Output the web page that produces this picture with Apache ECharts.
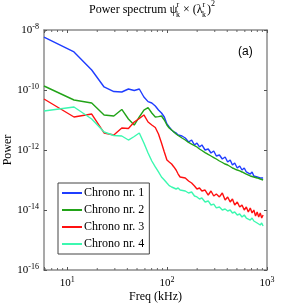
<!DOCTYPE html>
<html>
<head>
<meta charset="utf-8">
<script src="https://cdn.jsdelivr.net/npm/echarts@6.0.0/dist/echarts.min.js"></script>
<style>html,body{margin:0;padding:0;background:#fff;}#c{width:295px;height:306px;}</style>
</head>
<body>
<div id="c"></div>
<script>
const freq = [5.86, 11.7, 17.6, 23.4, 29.3, 35.2, 41.0, 46.9, 52.7, 58.6, 64.5, 70.3, 76.2, 82.0, 87.9, 93.8, 99.6,
  105, 111, 117, 123, 129, 135, 141, 152, 164, 176, 188, 199, 211, 223, 240, 258, 275, 293, 311, 334, 357, 381,
  404, 428, 451, 475, 504, 533, 562, 592, 621, 650, 680, 709, 738, 768, 797, 826, 856, 885, 914];

const chrono1 = [5.84e-9, 1.85e-9, 4.64e-10, 1.26e-10, 8.9e-11, 8.58e-11, 1.08e-10, 9.6e-11, 1.08e-10, 5.84e-11,
  4.1e-11, 3.69e-11, 2.93e-11, 2.15e-11, 1.71e-11, 1.26e-11, 7.36e-12, 5.84e-12, 4.64e-12, 3.98e-12,
  3.69e-12, 3.16e-12, 2.93e-12, 2.93e-12, 2.51e-12, 1.85e-12, 2.15e-12, 1.47e-12, 1.71e-12, 1.26e-12,
  1.47e-12, 1.0e-12, 1.08e-12, 7.94e-13, 9.26e-13, 6.31e-13, 6.81e-13, 5.01e-13, 5.84e-13, 3.98e-13,
  4.64e-13, 3.16e-13, 3.69e-13, 2.51e-13, 2.93e-13, 2.15e-13, 2.51e-13, 1.85e-13, 2.0e-13, 1.58e-13,
  1.85e-13, 1.36e-13, 1.58e-13, 1.26e-13, 1.36e-13, 1.17e-13, 1.36e-13, 1.17e-13];

const chrono2 = [1.36e-10, 4.64e-11, 3.69e-11, 1.47e-11, 1.36e-11, 2.25e-11, 1.08e-11, 6.81e-12, 1.26e-11, 2.15e-11,
  2.6e-11, 1.71e-11, 1.26e-11, 1.3e-11, 1.36e-11, 1.0e-11, 6.81e-12, 5.41e-12, 4.64e-12, 3.98e-12,
  3.41e-12, 3.05e-12, 2.72e-12, 2.51e-12, 2.15e-12, 1.78e-12, 1.58e-12, 1.41e-12, 1.26e-12, 1.08e-12,
  9.6e-13, 8.2e-13, 7.1e-13, 6.31e-13, 5.6e-13, 5.01e-13, 4.3e-13, 3.83e-13, 3.41e-13, 3.16e-13,
  2.82e-13, 2.51e-13, 2.33e-13, 2.15e-13, 2.0e-13, 1.85e-13, 1.71e-13, 1.58e-13, 1.47e-13, 1.36e-13,
  1.31e-13, 1.26e-13, 1.21e-13, 1.17e-13, 1.12e-13, 1.08e-13, 1.04e-13, 1.0e-13];

const chrono3 = [5.01e-11, 1.26e-11, 1.58e-11, 3.69e-12, 3.16e-12, 5.41e-12, 5.2e-12, 8.58e-12, 1.12e-11, 1.47e-11,
  8.58e-12, 6.81e-12, 5.6e-12, 3.41e-12, 1.71e-12, 8.58e-13, 4.64e-13, 3.98e-13, 3.41e-13, 2.72e-13,
  2.15e-13, 1.58e-13, 1.26e-13, 1.36e-13, 1.17e-13, 9.26e-14, 7.94e-14, 6.31e-14, 5.01e-14, 5.41e-14,
  4.3e-14, 4.64e-14, 3.16e-14, 4.3e-14, 2.93e-14, 3.41e-14, 2.72e-14, 3.69e-14, 2.15e-14, 2.72e-14,
  1.85e-14, 2.33e-14, 1.47e-14, 1.85e-14, 1.26e-14, 1.47e-14, 1.0e-14, 1.26e-14, 8.58e-15, 1.17e-14,
  7.94e-15, 1.0e-14, 6.31e-15, 8.58e-15, 5.84e-15, 7.94e-15, 5.41e-15, 6.81e-15];

const chrono4 = [2.0e-11, 2.72e-11, 1.08e-11, 3.98e-12, 3.05e-12, 2.93e-12, 2.15e-12, 2.82e-12, 3.69e-12, 1.71e-12,
  7.94e-13, 4.3e-13, 2.72e-13, 1.85e-13, 1.26e-13, 1.0e-13, 7.94e-14, 6.5e-14, 5.84e-14, 5.41e-14,
  5.01e-14, 5.41e-14, 4.64e-14, 5.01e-14, 4.3e-14, 3.69e-14, 3.98e-14, 2.93e-14, 2.72e-14, 2.33e-14,
  2.51e-14, 1.85e-14, 2.0e-14, 1.47e-14, 1.58e-14, 1.17e-14, 1.26e-14, 1.0e-14, 1.08e-14, 9.26e-15,
  1.0e-14, 7.94e-15, 8.58e-15, 6.81e-15, 7.36e-15, 5.84e-15, 6.81e-15, 5.41e-15, 5.84e-15, 4.64e-15,
  5.41e-15, 4.3e-15, 4.64e-15, 3.69e-15, 3.98e-15, 3.16e-15, 3.69e-15, 2.93e-15];

const minorTickValues = [6, 7, 8, 9, 20, 30, 40, 50, 60, 70, 80, 90, 200, 300, 400, 500, 600, 700, 800, 900];

const seriesNames = ['Chrono nr. 1', 'Chrono nr. 2', 'Chrono nr. 3', 'Chrono nr. 4'];
const seriesColors = ['#1f3dff', '#22a318', '#ff1010', '#3cf8b0'];
const seriesValues = [chrono1, chrono2, chrono3, chrono4];

const serif = 'Liberation Serif';
const Y_MIN = 1e-16, Y_MAX = 1e-8;

function powLabel(v) {
  const l = Math.log10(v);
  const e = Math.round(l);
  if (Math.abs(l - e) > 1e-6) return '';
  return '{b|10}{s|' + e + '}';
}
const richLabel = {
  b: { fontFamily: serif, fontSize: 11, color: '#000' },
  s: { fontFamily: serif, fontSize: 8, color: '#000', padding: [0, 0, 7, 0] }
};

const axisLineStyle = { lineStyle: { color: '#8c8c8c', width: 1.5 } };
const tickStyle = { inside: true, length: 3, lineStyle: { color: '#555', width: 1 } };

const lineSeries = seriesNames.map((name, i) => ({
  name: name, type: 'line', xAxisIndex: 0, yAxisIndex: 0,
  data: freq.map((f, j) => [f, seriesValues[i][j]]),
  showSymbol: false, symbol: 'none',
  lineStyle: { color: seriesColors[i], width: 1.4 },
  itemStyle: { color: seriesColors[i] },
  z: 2 + i
}));

const minorTicks = {
  type: 'custom', silent: true, xAxisIndex: 0, yAxisIndex: 0, z: 10,
  data: minorTickValues.map(v => [v, Y_MIN]),
  renderItem: function (params, api) {
    const v = api.value(0);
    const pb = api.coord([v, Y_MIN]);
    const pt = api.coord([v, Y_MAX]);
    const st = { stroke: '#666', lineWidth: 1 };
    return {
      type: 'group',
      children: [
        { type: 'line', shape: { x1: pb[0], y1: pb[1], x2: pb[0], y2: pb[1] - 2 }, style: st },
        { type: 'line', shape: { x1: pt[0], y1: pt[1], x2: pt[0], y2: pt[1] + 2 }, style: st }
      ]
    };
  }
};

const chart = echarts.init(document.getElementById('c'), null, { renderer: 'canvas' });
chart.setOption({
  animation: false,
  backgroundColor: '#fff',
  grid: { left: 44, top: 30, width: 223, height: 240, containLabel: false },
  xAxis: [{
    type: 'log', logBase: 10, min: 5.86, max: 1000, position: 'bottom',
    axisLine: axisLineStyle, axisTick: tickStyle, splitLine: { show: false },
    axisLabel: { formatter: powLabel, rich: richLabel, margin: 6, hideOverlap: false, showMinLabel: true, showMaxLabel: true }
  }, {
    type: 'log', logBase: 10, min: 5.86, max: 1000, position: 'top',
    axisLine: axisLineStyle, axisTick: tickStyle, splitLine: { show: false },
    axisLabel: { show: false }
  }],
  yAxis: [{
    type: 'log', logBase: 10, min: Y_MIN, max: Y_MAX, interval: 2, position: 'left',
    axisLine: axisLineStyle, axisTick: tickStyle, splitLine: { show: false },
    axisLabel: { formatter: powLabel, rich: richLabel, margin: 5, showMinLabel: true, showMaxLabel: true }
  }, {
    type: 'log', logBase: 10, min: Y_MIN, max: Y_MAX, interval: 2, position: 'right',
    axisLine: axisLineStyle, axisTick: tickStyle, splitLine: { show: false },
    axisLabel: { show: false }
  }],
  legend: {
    orient: 'vertical', left: 58, top: 183,
    data: seriesNames,
    icon: 'rect', itemWidth: 20, itemHeight: 2, itemGap: 3,
    padding: [3, 5, 3, 4],
    borderColor: '#444', borderWidth: 1, backgroundColor: '#fff',
    textStyle: { fontFamily: serif, fontSize: 12, color: '#000', lineHeight: 14, padding: [0, 0, 0, -3] }
  },
  series: lineSeries.concat([minorTicks]),
  graphic: [
    { type: 'text', left: 89, top: 4, style: { text: 'Power spectrum ψ', fontFamily: serif, fontSize: 12, fill: '#000' } },
    { type: 'text', left: 176.5, top: 1, style: { text: 'r', fontFamily: serif, fontSize: 8, fill: '#000' } },
    { type: 'text', left: 176, top: 11, style: { text: 'k', fontFamily: serif, fontSize: 8, fill: '#000' } },
    { type: 'text', left: 183, top: 4, style: { text: '× (λ', fontFamily: serif, fontSize: 12, fill: '#000' } },
    { type: 'text', left: 202.5, top: 1, style: { text: 'r', fontFamily: serif, fontSize: 8, fill: '#000' } },
    { type: 'text', left: 202, top: 11, style: { text: 'k', fontFamily: serif, fontSize: 8, fill: '#000' } },
    { type: 'text', left: 207, top: 4, style: { text: ')', fontFamily: serif, fontSize: 12, fill: '#000' } },
    { type: 'text', left: 211, top: 0, style: { text: '2', fontFamily: serif, fontSize: 8, fill: '#000' } },
    { type: 'text', left: 238, top: 46, style: { text: '(a)', fontFamily: 'Liberation Sans', fontSize: 12, fill: '#000' } },
    { type: 'text', x: 8, y: 150, rotation: Math.PI / 2, style: { text: 'Power', fontFamily: serif, fontSize: 12, fill: '#000', align: 'center', verticalAlign: 'middle' } },
    { type: 'text', x: 155.5, y: 297, style: { text: 'Freq (kHz)', fontFamily: serif, fontSize: 12, fill: '#000', align: 'center', verticalAlign: 'middle' } }
  ]
});
</script>
</body>
</html>
